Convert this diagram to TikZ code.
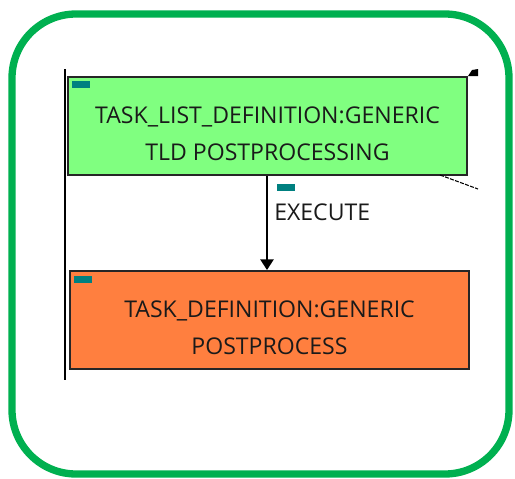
\documentclass[tikz,border=0pt]{standalone}
\usepackage{fontspec}
\setmainfont{Open Sans}
\usetikzlibrary{arrows.meta}
\definecolor{frameg}{HTML}{00B050}
\definecolor{boxg}{HTML}{80FF80}
\definecolor{boxo}{HTML}{FF7F3F}
\definecolor{tealc}{HTML}{008080}
\definecolor{txt}{HTML}{1A1A1A}
\tikzset{
  px/.style={x=0.75pt,y=-0.75pt},
  entity/.style={draw=black!85,line width=1.5pt,minimum width=299.25pt,minimum height=73.5pt,inner sep=0pt},
  etext/.style={align=center,text=txt,inner sep=0pt,font=\fontsize{17.3}{27.8}\selectfont},
  tag/.style={fill=tealc,draw=none,minimum width=13pt,minimum height=5pt,inner sep=0pt},
  conn/.style={draw=black,line width=1.2pt},
  lbl/.style={text=txt,font=\fontsize{17.3}{20}\selectfont,inner sep=0pt,anchor=west}
}
\begin{document}
\begin{tikzpicture}[px]
\useasboundingbox (0,0) rectangle (515,479);
\draw[frameg,line width=5.5pt,rounded corners=48pt] (12,14) rectangle (509,474);
% left vertical line
\draw[black,line width=1.5pt] (65,69) -- (65,380);
\node[entity,fill=boxg,anchor=north west] (tld) at (67,76) {};
\node[entity,fill=boxo,anchor=north west] (td) at (69,270) {};
\node[etext] (tldtext) at ([yshift=-5.5pt]tld.center) {TASK\_LIST\_DEFINITION:GENERIC\\TLD POSTPROCESSING};
\node[etext] (tdtext) at ([yshift=-5.5pt]td.center) {TASK\_DEFINITION:GENERIC\\POSTPROCESS};
\node[tag,anchor=north west] (t1) at (72,81) {};
\node[tag,anchor=north west] (t2) at (74,276) {};
\draw[conn,-{Triangle[length=8pt,width=10pt]}] (tld.south -| 267,0) -- (td.north -| 267,0);
\node[tag,anchor=north west] (t3) at (277,184) {};
\node[lbl] (ex) at (274,212) {EXECUTE};
% top-right fragments
\fill[black] (468,76) -- (472,70) -- (478,69) -- (478,76) -- cycle;
\coordinate (dsa) at (440,175);
\coordinate (dsb) at (478,189);
\draw[black,line width=0.8pt,dash pattern=on 3pt off 1pt] (dsa) -- (dsb);
\end{tikzpicture}
\end{document}
